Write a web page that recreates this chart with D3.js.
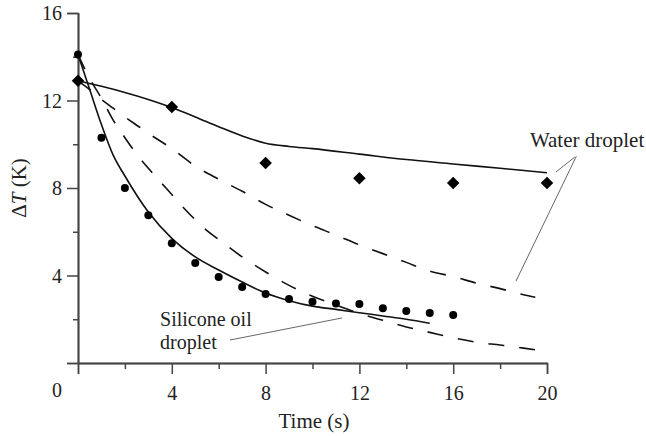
<!DOCTYPE html>
<html>
<head>
  <script src="https://d3js.org/d3.v7.min.js"></script>
  <style>
    body { margin: 0; background: white; }
    svg text { font-family: 'Liberation Serif', 'Times New Roman', serif; fill: #222; }
  </style>
</head>
<body>
<svg id="chart" width="646" height="436"></svg>
<script>
// measured points
const siliconeT = [0, 1, 2, 3, 4, 5, 6, 7, 8, 9, 10, 11, 12, 13, 14, 15, 16];
const siliconeDT = [14.1, 10.3, 8.0, 6.75, 5.47, 4.57, 3.93, 3.47, 3.15, 2.93, 2.8, 2.72, 2.7, 2.5, 2.38, 2.29, 2.19];
const waterT = [0, 4, 8, 12, 16, 20];
const waterDT = [12.9, 11.7, 9.14, 8.45, 8.23, 8.23];

// solid model curves
const waterFitT = [0, 1, 2, 3, 4, 5, 6, 7, 8, 9, 10, 12, 14, 16, 18, 20];
const waterFitDT = [12.9, 12.65, 12.37, 12.05, 11.68, 11.25, 10.8, 10.38, 10.05, 9.9, 9.8, 9.55, 9.3, 9.1, 8.9, 8.7];
const siliconeFitT = [0, 0.5, 1, 1.5, 2, 3, 4, 5, 6, 7, 8, 9, 10, 11, 12, 13, 14, 15];
const siliconeFitDT = [14.1, 12.5, 10.9, 9.5, 8.55, 6.9, 5.7, 4.85, 4.25, 3.7, 3.2, 2.85, 2.6, 2.45, 2.3, 2.15, 2.0, 1.82];

// dashed model curves
const dashUpperT = [0, 0.5, 1, 1.5, 2, 2.6, 3, 4, 5, 6, 7, 8, 9, 10, 11, 12, 13, 14, 15, 16, 17, 18, 19, 19.5];
const dashUpperDT = [12.9, 12.5, 12.05, 11.65, 11.25, 10.8, 10.5, 9.8, 9.0, 8.4, 7.85, 7.25, 6.75, 6.28, 5.85, 5.4, 5.0, 4.6, 4.2, 3.95, 3.65, 3.4, 3.12, 3.0];
const dashLowerT = [0, 0.5, 1, 1.5, 2, 2.5, 3, 3.5, 4, 4.5, 5, 5.5, 6, 7, 8, 9, 10, 11, 12, 13, 14, 15, 16, 17, 18, 19, 19.8];
const dashLowerDT = [14.1, 13.0, 12.1, 11.1, 10.3, 9.55, 8.9, 8.3, 7.7, 7.1, 6.55, 6.05, 5.65, 4.85, 4.16, 3.55, 3.05, 2.65, 2.27, 1.95, 1.65, 1.4, 1.15, 0.95, 0.82, 0.68, 0.55];

const xMajor = [0, 4, 8, 12, 16, 20];
const xMinor = [2, 6, 10, 14, 18];
const yMajor = [0, 4, 8, 12, 16];
const yMinor = [2, 6, 10, 14];

const svg = d3.select('#chart');
const x = d3.scaleLinear().domain([0, 20]).range([78, 547]);
const y = d3.scaleLinear().domain([0, 16]).range([363, 13]);
const axisColor = '#444';

function pairs(ts, vs) { return ts.map((t, i) => [t, vs[i]]); }

// axes
const gx = svg.append('g').attr('transform', 'translate(0,' + y(0) + ')');
gx.call(d3.axisBottom(x).tickValues(xMajor.slice(1)).tickSize(11).tickSizeOuter(0).tickPadding(12));
gx.append('g').call(d3.axisBottom(x).tickValues(xMinor).tickSize(6).tickFormat('').tickSizeOuter(0));
gx.append('g').call(d3.axisBottom(x).tickValues([0]).tickSize(11).tickFormat(''));

const gy = svg.append('g').attr('transform', 'translate(' + x(0) + ',0)');
gy.call(d3.axisLeft(y).tickValues(yMajor.slice(1)).tickSize(11).tickSizeOuter(0).tickPadding(5));
gy.append('g').call(d3.axisLeft(y).tickValues(yMinor).tickSize(5).tickFormat('').tickSizeOuter(0));
gy.append('g').call(d3.axisLeft(y).tickValues([0]).tickSize(11).tickFormat(''));

svg.selectAll('.domain').attr('stroke', axisColor).attr('stroke-width', 1.5);
svg.selectAll('.tick line').attr('stroke', axisColor).attr('stroke-width', 1.5);
svg.selectAll('.tick text').style('font-size', '20px').attr('fill', '#222');
gy.selectAll('.tick text').attr('dy', '0.34em');

svg.append('text')
  .attr('x', x(0) - 21).attr('y', y(0) + 34)
  .attr('text-anchor', 'middle')
  .style('font-size', '20px')
  .text('0');

svg.append('text')
  .attr('x', 314).attr('y', 428)
  .attr('text-anchor', 'middle')
  .style('font-size', '21px')
  .text('Time (s)');

svg.append('text')
  .attr('transform', 'translate(26,' + 188 + ') rotate(-90)')
  .attr('text-anchor', 'middle')
  .style('font-size', '21px')
  .html('\u0394<tspan font-style="italic">T</tspan> (K)');

// curves
const line = d3.line().x(d => x(d[0])).y(d => y(d[1])).curve(d3.curveMonotoneX);

[[siliconeFitT, siliconeFitDT], [waterFitT, waterFitDT]].forEach(s => {
  svg.append('path').datum(pairs(s[0], s[1]))
    .attr('fill', 'none').attr('stroke', '#111').attr('stroke-width', 1.6)
    .attr('d', line);
});
[[dashUpperT, dashUpperDT], [dashLowerT, dashLowerDT]].forEach(s => {
  svg.append('path').datum(pairs(s[0], s[1]))
    .attr('fill', 'none').attr('stroke', '#111').attr('stroke-width', 1.6)
    .attr('stroke-dasharray', '16,15')
    .attr('d', line);
});

// markers
svg.append('g').selectAll('circle')
  .data(pairs(siliconeT, siliconeDT))
  .join('circle')
  .attr('cx', d => x(d[0])).attr('cy', d => y(d[1]))
  .attr('r', 4).attr('fill', '#000');

svg.append('g').selectAll('path')
  .data(pairs(waterT, waterDT))
  .join('path')
  .attr('transform', d => 'translate(' + x(d[0]) + ',' + y(d[1]) + ')')
  .attr('d', d3.symbol().type(d3.symbolDiamond2).size(100))
  .attr('fill', '#000');

// annotations
function leader(t1, v1, t2, v2) {
  svg.append('line')
    .attr('x1', x(t1)).attr('y1', y(v1)).attr('x2', x(t2)).attr('y2', y(v2))
    .attr('stroke', '#555').attr('stroke-width', 0.9);
}
leader(6.48, 1.05, 11.26, 2.06);
leader(21.19, 9.42, 20.38, 8.73);
leader(21.25, 9.45, 18.68, 3.75);

svg.append('text').attr('x', x(19.27)).attr('y', y(9.87))
  .style('font-size', '21px').text('Water droplet');

svg.append('text').attr('x', x(3.5)).attr('y', 326)
  .style('font-size', '20px').text('Silicone oil');
svg.append('text').attr('x', x(3.5)).attr('y', 349)
  .style('font-size', '20px').text('droplet');
</script>
</body>
</html>
